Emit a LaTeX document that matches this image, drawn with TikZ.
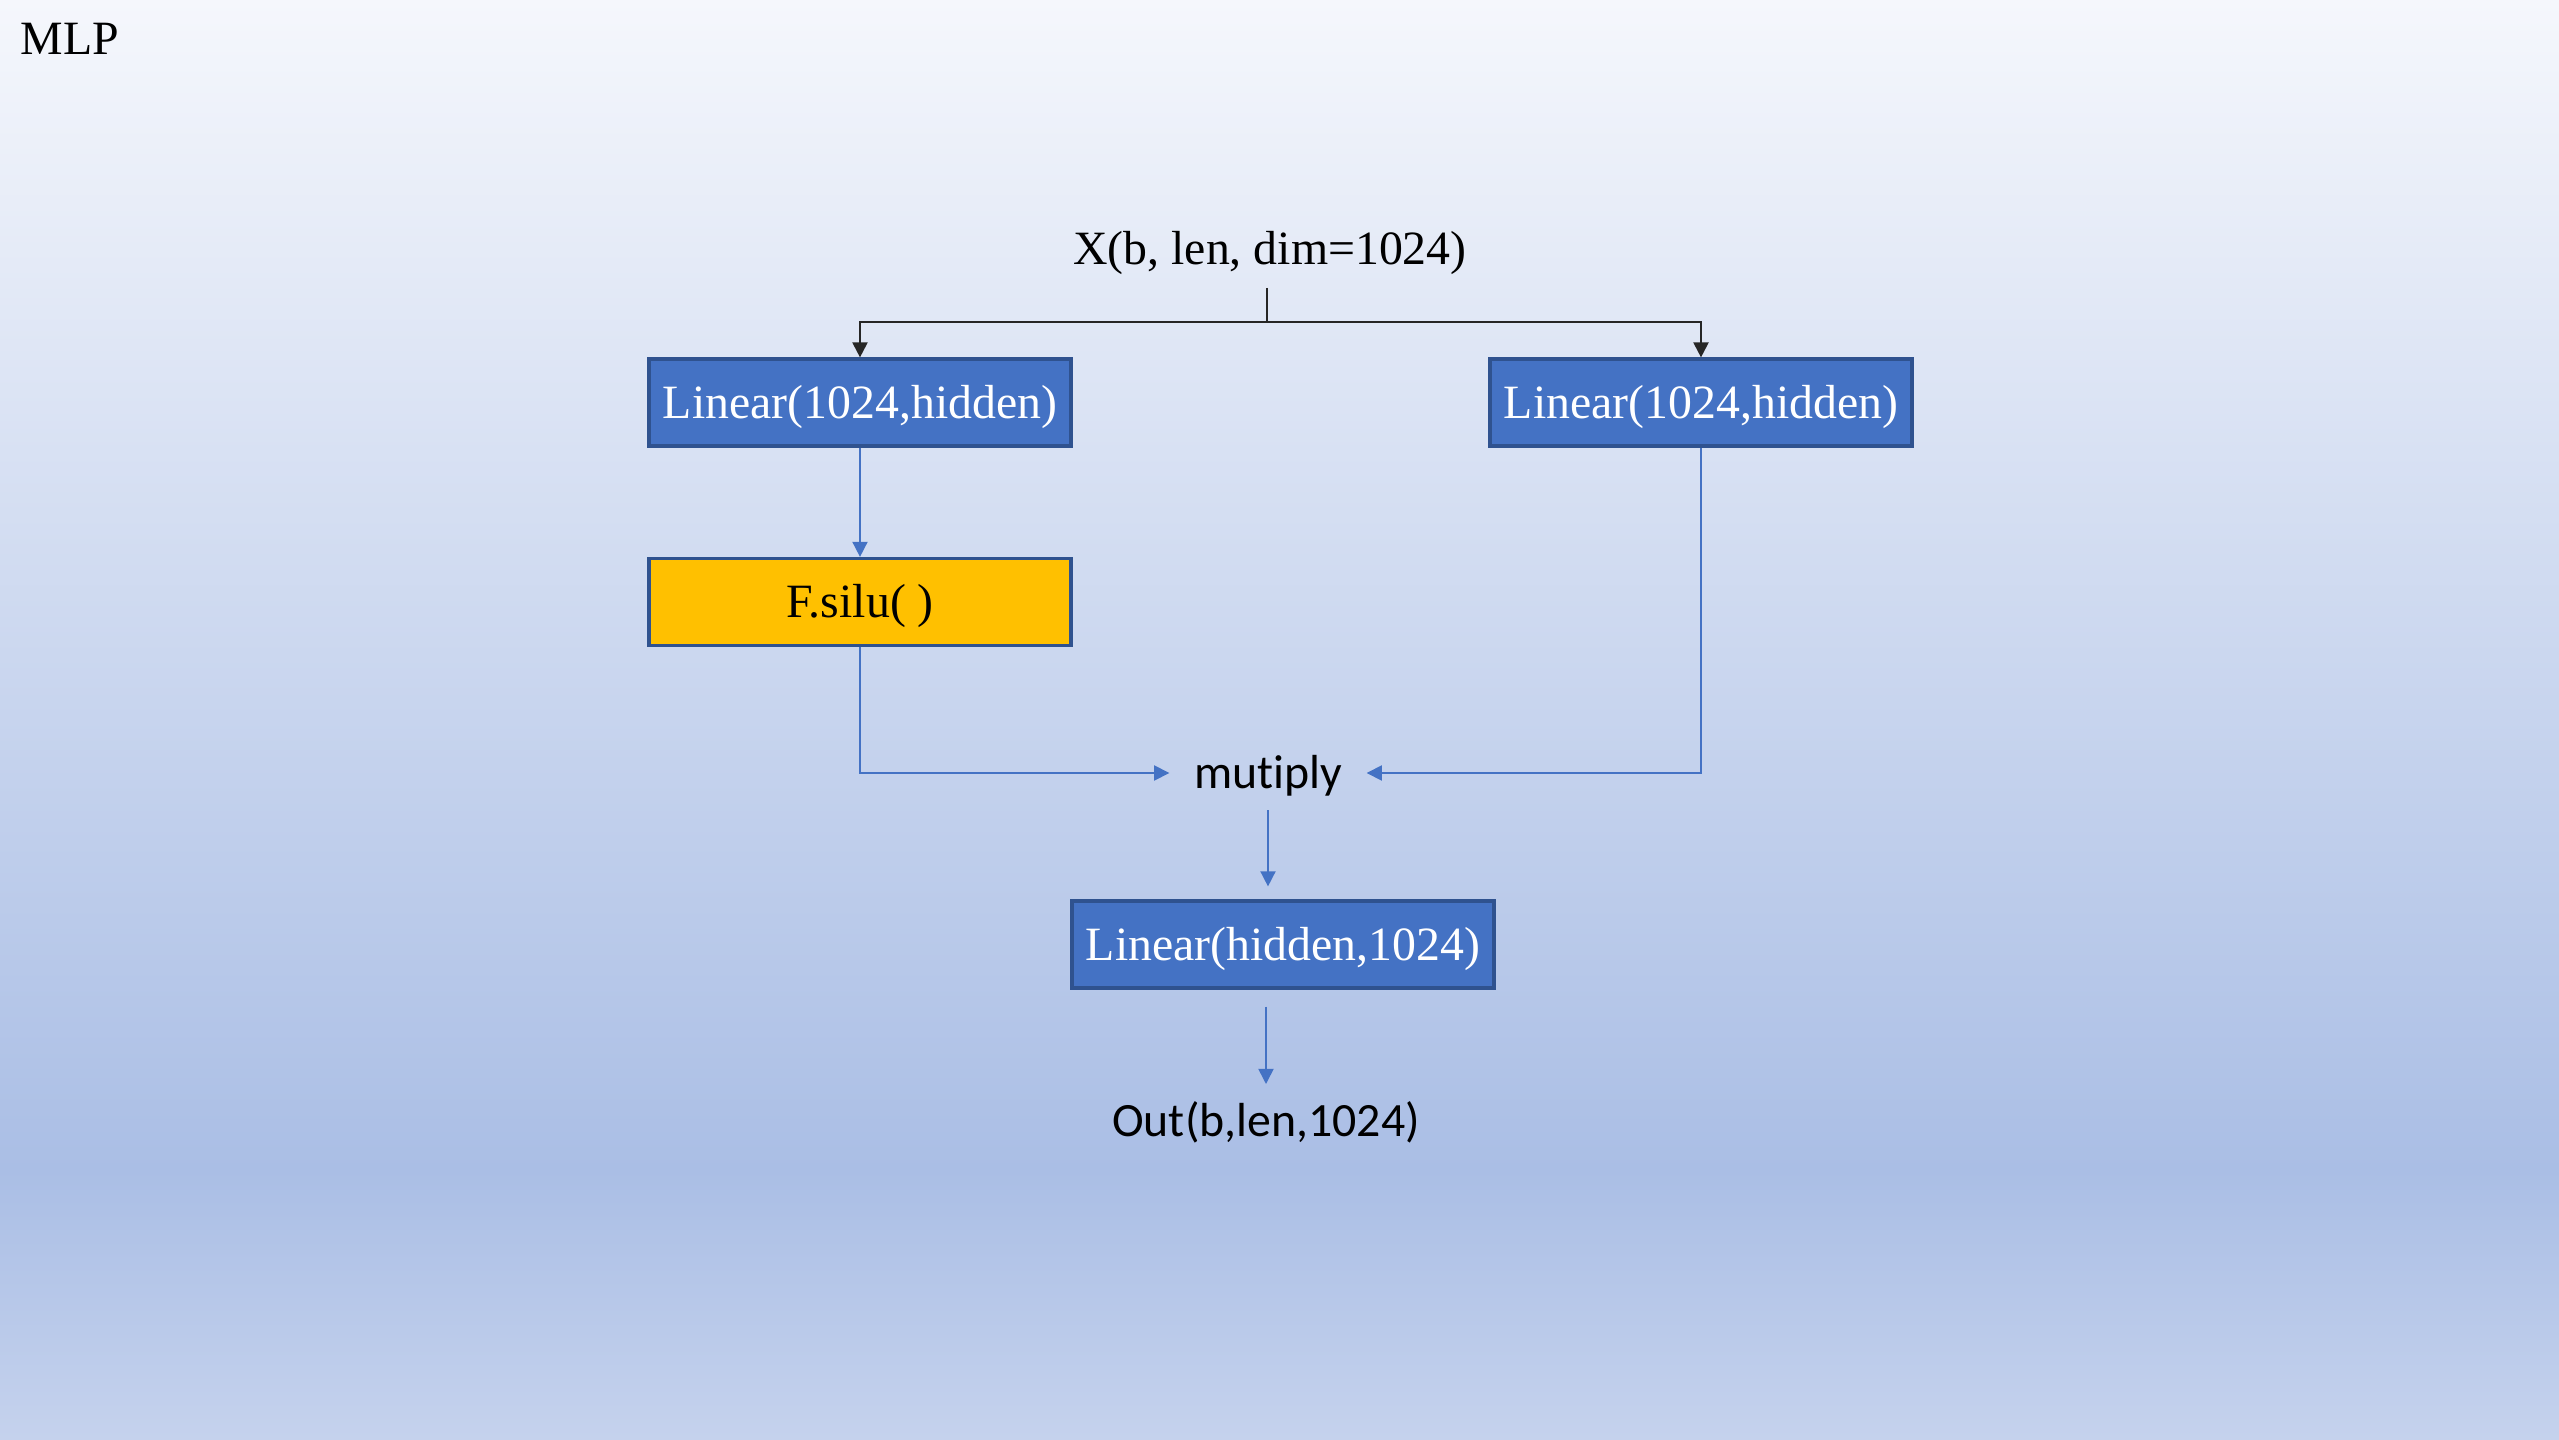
\documentclass[tikz,border=0pt]{standalone}
\usepackage{fontspec}
\setmainfont{Liberation Serif}
\newfontfamily\calibri[Ligatures=NoCommon]{Carlito}
\definecolor{boxblue}{HTML}{4472C4}
\definecolor{boxedge}{HTML}{2F528F}
\definecolor{siluyellow}{HTML}{FFC000}
\definecolor{bgtop}{RGB}{245,247,252}
\definecolor{bgmid}{RGB}{170,190,229}
\definecolor{bgbot}{RGB}{197,210,237}
\usetikzlibrary{arrows.meta, positioning, calc}

\begin{document}
\begin{tikzpicture}[
  block/.style={draw=boxedge, line width=0.9pt, fill=boxblue, text=white, minimum width=4.22cm, minimum height=0.87cm, inner sep=0pt, text height=0.41cm, text depth=0.10cm, font=\fontsize{13.6}{16}\selectfont},
  act/.style={block, fill=siluyellow, text=black},
  txt/.style={inner xsep=0.24cm, inner ysep=0.13cm, font=\fontsize{13.6}{16}\selectfont},
  flow/.style={-{Triangle[length=4.3pt, width=4.3pt]}, line width=0.45pt, draw=boxblue},
  fork/.style={-{Triangle[length=4.3pt, width=4.3pt]}, line width=0.6pt, draw=black!85}
]
  % Background
  \shade[top color=bgtop, bottom color=bgmid] (0,2.69) rectangle (25.59,14.39);
  \shade[top color=bgmid, bottom color=bgbot] (0,0) rectangle (25.59,2.70);
  \useasboundingbox (0,0) rectangle (25.59,14.39);

  % Title
  \node[anchor=west, inner sep=0pt, font=\fontsize{13.6}{16}\selectfont] (title) at (0.20, 14.00) {MLP};

  % Input
  \node[txt, inner ysep=0.12cm] (x) at (12.70, 11.855) {X(b, len, dim=1024)};

  % Projections
  \node[block] (gate) at (8.60, 10.365) {Linear(1024,hidden)};
  \node[block] (up) at (17.01, 10.365) {Linear(1024,hidden)};
  \node[act] (silu) at (8.60, 8.37) {F.silu( )};

  \coordinate (split) at (12.67, 11.17);
  \draw[line width=0.6pt, draw=black!85] (x.south -| split) -- (split);
  \draw[fork] (split) -| (gate.north);
  \draw[fork] (split) -| (up.north);
  \draw[flow] (gate.south) -- (silu.north);

  % Product
  \node[txt, font=\calibri\fontsize{13.6}{16}\selectfont] (mul) at (12.68, 6.63) {mutiply};
  \draw[flow] (silu.south) |- ([yshift=0.03cm]mul.west);
  \draw[flow] (up.south) |- ([yshift=0.03cm]mul.east);

  % Output
  \node[block] (down) at (12.83, 4.945) {Linear(hidden,1024)};
  \node[txt, inner ysep=0.17cm, font=\calibri\fontsize{13.6}{16}\selectfont] (out) at (12.66, 3.165) {Out(b,len,1024)};
  \draw[flow] (mul.south) -- ([yshift=0.13cm]mul.south |- down.north);
  \draw[flow] ([yshift=-0.17cm]down.south -| out.north) -- (out.north);
\end{tikzpicture}
\end{document}
